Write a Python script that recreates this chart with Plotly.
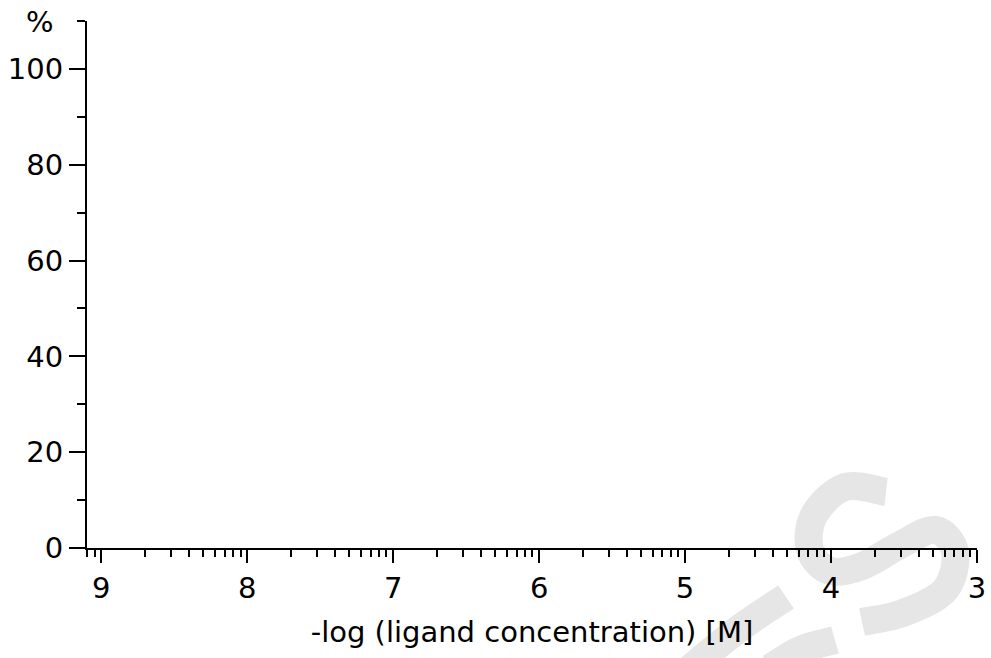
import numpy as np
import plotly.graph_objects as go

# ---- data / axis definitions ----
x_major_ticks = [9, 8, 7, 6, 5, 4, 3]
x_tick_labels = ["9", "8", "7", "6", "5", "4", "3"]
x_range = [9.0975, 3.0]
y_major_ticks = [0, 20, 40, 60, 80, 100]
y_tick_labels = ["0", "20", "40", "60", "80", "100"]
y_range = [0, 110]
x_title = "-log (ligand concentration) [M]"
y_unit = "%"

# minor ticks of a log concentration scale: -log(k * 10^-n) = n - log10(k)
x_minor_ticks = [n - np.log10(k) for n in range(4, 11) for k in range(2, 10)]
x_minor_ticks = [v for v in x_minor_ticks if x_range[1] <= v <= x_range[0] + 1e-9]

W, H = 991, 658
L, R, T, B = 87, 14, 21, 110
PW, PH = W - L - R, H - T - B
FONT = "DejaVu Sans, Liberation Sans, Arial, sans-serif"
FS = 29


def px(xp, yp):
    return (xp - L) / PW, (H - B - yp) / PH


def stroke_path(points):
    pts = [px(a, b) for a, b in points]
    s = "M %.4f,%.4f" % pts[0]
    # Catmull-Rom -> cubic bezier
    for i in range(len(pts) - 1):
        p0 = pts[i - 1] if i > 0 else pts[i]
        p1 = pts[i]
        p2 = pts[i + 1]
        p3 = pts[i + 2] if i + 2 < len(pts) else pts[i + 1]
        c1 = (p1[0] + (p2[0] - p0[0]) / 6, p1[1] + (p2[1] - p0[1]) / 6)
        c2 = (p2[0] - (p3[0] - p1[0]) / 6, p2[1] - (p3[1] - p1[1]) / 6)
        s += " C %.4f,%.4f %.4f,%.4f %.4f,%.4f" % (c1 + c2 + p2)
    return s


# watermark strokes (background decoration)
wm_s = [(886, 492), (845, 487), (814, 515), (810, 550), (830, 571), (862, 566),
        (900, 545), (935, 530), (955, 552), (945, 590), (903, 613), (862, 622)]
wm_a = [(688, 670), (740, 628), (786, 597)]
wm_b = [(770, 668), (800, 650), (835, 640)]

fig = go.Figure()
fig.add_trace(go.Scatter(x=[], y=[], mode="lines", showlegend=False))

shapes = []
for pts in (wm_s, wm_a, wm_b):
    shapes.append(dict(type="path", xref="paper", yref="paper", path=stroke_path(pts),
                       line=dict(color="#e6e6e6", width=28), layer="below"))

axis_common = dict(showgrid=False, zeroline=False, showline=True, linecolor="black",
                   linewidth=2, ticks="outside", tickcolor="black", tickwidth=2,
                   automargin=False,
                   tickfont=dict(family=FONT, size=FS, color="black"))

fig.update_layout(
    width=W, height=H,
    margin=dict(l=L, r=R, t=T, b=B, pad=0, autoexpand=False),
    paper_bgcolor="white", plot_bgcolor="rgba(0,0,0,0)",
    font=dict(family=FONT, size=FS, color="black"),
    shapes=shapes,
    xaxis=dict(range=x_range, tickmode="array", tickvals=x_major_ticks, ticktext=x_tick_labels,
               ticklen=13,
               minor=dict(tickmode="array", tickvals=x_minor_ticks, ticks="outside",
                          ticklen=7, tickwidth=2, tickcolor="black"),
               title=dict(text=x_title, font=dict(family=FONT, size=FS), standoff=18),
               **axis_common),
    yaxis=dict(range=y_range, tickmode="array", tickvals=y_major_ticks, ticktext=y_tick_labels,
               ticklen=16,
               minor=dict(dtick=10, tick0=0, ticks="outside", ticklen=8, tickwidth=2,
                          tickcolor="black"),
               **axis_common),
    annotations=[dict(text=y_unit, xref="paper", yref="paper", x=px(40, 22)[0], y=px(40, 22)[1],
                      xanchor="center", yanchor="middle", showarrow=False,
                      font=dict(family=FONT, size=FS, color="black"))],
)

fig.write_html("out.html")
